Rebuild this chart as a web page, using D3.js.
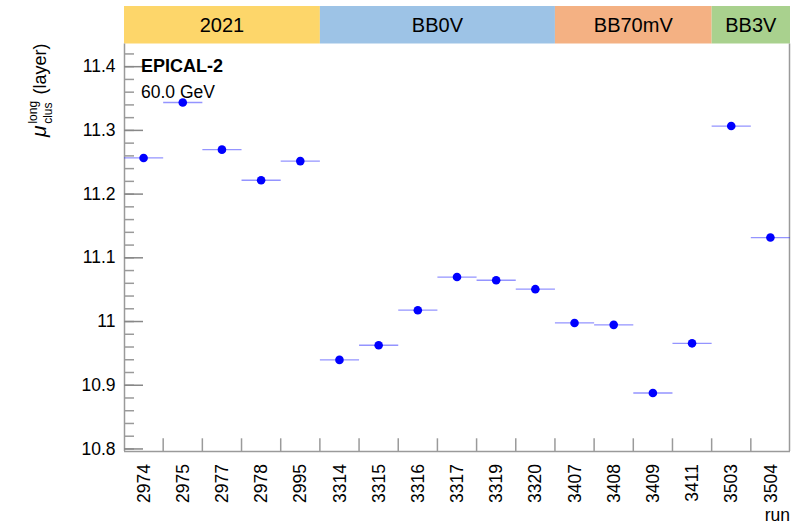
<!DOCTYPE html>
<html>
<head>
<meta charset="utf-8">
<script src="https://cdn.jsdelivr.net/npm/d3@7"></script>
<style>
  html, body { margin: 0; padding: 0; background: #fff; }
  svg { display: block; font-family: "Liberation Sans", Arial, Helvetica, sans-serif; }
</style>
</head>
<body>
<svg id="chart" width="812" height="527"></svg>
<script>
// ---- data ----
const runs = ["2974","2975","2977","2978","2995","3314","3315","3316","3317","3319","3320","3407","3408","3409","3411","3503","3504"];
const values = [11.256, 11.343, 11.269, 11.221, 11.251, 10.939, 10.962, 11.017, 11.069, 11.064, 11.050, 10.997, 10.994, 10.887, 10.965, 11.306, 11.131];
const groups = ["2021", "BB0V", "BB70mV", "BB3V"];
const groupSizes = [5, 6, 4, 2];
const groupColors = ["#FDD66A", "#9DC3E6", "#F4B183", "#A9D18E"];
const yMajorTicks = [10.8, 10.9, 11.0, 11.1, 11.2, 11.3, 11.4];
const yTickLabels = ["10.8", "10.9", "11", "11.1", "11.2", "11.3", "11.4"];
const yMinorTicks = d3.range(0, 32).map(i => +(10.8 + i * 0.02).toFixed(2));
const yDomain = [10.796, 11.4356];

// ---- layout ----
const pLeft = 124, pRight = 790, pTop = 43.5, pBottom = 451;
const svg = d3.select("#chart");
const axisColor = "#9a9a9a";

const x = d3.scaleBand().domain(runs).range([pLeft, pRight]).padding(0);
const y = d3.scaleLinear().domain(yDomain).range([pBottom, pTop]);

// header bands
let start = 0;
const bandData = groups.map((g, i) => {
  const d = { name: g, from: runs[start], to: runs[start + groupSizes[i] - 1], color: groupColors[i] };
  start += groupSizes[i];
  return d;
});
const bandG = svg.append("g");
bandG.selectAll("rect").data(bandData).join("rect")
  .attr("x", d => x(d.from))
  .attr("width", d => x(d.to) + x.bandwidth() - x(d.from))
  .attr("y", 6).attr("height", pTop - 6)
  .attr("fill", d => d.color);
bandG.selectAll("text").data(bandData).join("text")
  .attr("x", d => (x(d.from) + x(d.to) + x.bandwidth()) / 2)
  .attr("y", 25).attr("dy", "0.36em")
  .attr("text-anchor", "middle")
  .attr("font-size", 20).attr("fill", "#000")
  .text(d => d.name);

// frame (right edge)
svg.append("line")
  .attr("x1", pRight - 0.5).attr("x2", pRight - 0.5)
  .attr("y1", pTop).attr("y2", pBottom)
  .attr("stroke", axisColor).attr("stroke-width", 1.5);

// y axis minor ticks
const yMinor = svg.append("g").attr("transform", `translate(${pLeft},0)`)
  .call(d3.axisLeft(y).tickValues(yMinorTicks).tickSize(-10).tickFormat(""));
yMinor.select(".domain").remove();
yMinor.selectAll("line").attr("stroke", axisColor).attr("stroke-width", 1.5);

// y axis major
const yAxis = svg.append("g").attr("transform", `translate(${pLeft},0)`)
  .call(d3.axisLeft(y).tickValues(yMajorTicks).tickSize(-19).tickPadding(8.5)
    .tickFormat((d, i) => yTickLabels[i]));
yAxis.select(".domain").attr("stroke", axisColor).attr("stroke-width", 1.5)
  .attr("d", `M0.5,${pTop}V${pBottom}`);
yAxis.selectAll("line").attr("stroke", "#888").attr("stroke-width", 1.5);
yAxis.selectAll("text").attr("font-size", 17.5).attr("fill", "#000")
  .attr("font-family", "Liberation Sans, Arial, sans-serif");

// x axis (labels)
const xAxis = svg.append("g").attr("transform", `translate(0,${pBottom})`)
  .call(d3.axisBottom(x).tickSize(0).tickPadding(0));
xAxis.select(".domain").attr("stroke", axisColor).attr("stroke-width", 1.5)
  .attr("d", `M${pLeft},0.5H${pRight}`);
xAxis.selectAll("text")
  .attr("transform", "rotate(-90)")
  .attr("text-anchor", "end")
  .attr("x", -13).attr("y", 0).attr("dy", "0.35em")
  .attr("font-size", 17.5).attr("fill", "#000")
  .attr("font-family", "Liberation Sans, Arial, sans-serif");

// x boundary ticks
svg.append("g").selectAll("line").data(runs.slice(1)).join("line")
  .attr("x1", d => x(d)).attr("x2", d => x(d))
  .attr("y1", pBottom).attr("y2", pBottom - 12.7)
  .attr("stroke", axisColor).attr("stroke-width", 1.5);

// error bars (bin width)
svg.append("g").selectAll("line").data(runs).join("line")
  .attr("x1", d => x(d)).attr("x2", d => x(d) + x.bandwidth())
  .attr("y1", (d, i) => y(values[i])).attr("y2", (d, i) => y(values[i]))
  .attr("stroke", "rgba(60,60,255,0.55)").attr("stroke-width", 1.3);

// points
svg.append("g").selectAll("circle").data(runs).join("circle")
  .attr("cx", d => x(d) + x.bandwidth() / 2)
  .attr("cy", (d, i) => y(values[i]))
  .attr("r", 4.3).attr("fill", "#0000ff");

// labels in plot
svg.append("text").attr("x", 141).attr("y", 72)
  .attr("font-size", 18).attr("font-weight", "bold").attr("fill", "#000")
  .text("EPICAL-2");
svg.append("text").attr("x", 141).attr("y", 98)
  .attr("font-size", 17.5).attr("fill", "#000")
  .text("60.0 GeV");

// x title
svg.append("text").attr("x", 790).attr("y", 521)
  .attr("text-anchor", "end").attr("font-size", 17.5).attr("fill", "#000")
  .text("run");

// y title
const yt = svg.append("text")
  .attr("transform", "translate(46,43.5) rotate(-90)")
  .attr("text-anchor", "end").attr("font-size", 18).attr("fill", "#000");
yt.append("tspan").attr("font-style", "italic").attr("font-size", 21).text("μ");
yt.append("tspan").attr("font-size", 12).attr("dx", 2).attr("dy", -9).text("long");
yt.append("tspan").attr("font-size", 12).attr("dx", -23).attr("dy", 15).text("clus");
yt.append("tspan").attr("dx", 8).attr("dy", -6).text("(layer)");
</script>
</body>
</html>
